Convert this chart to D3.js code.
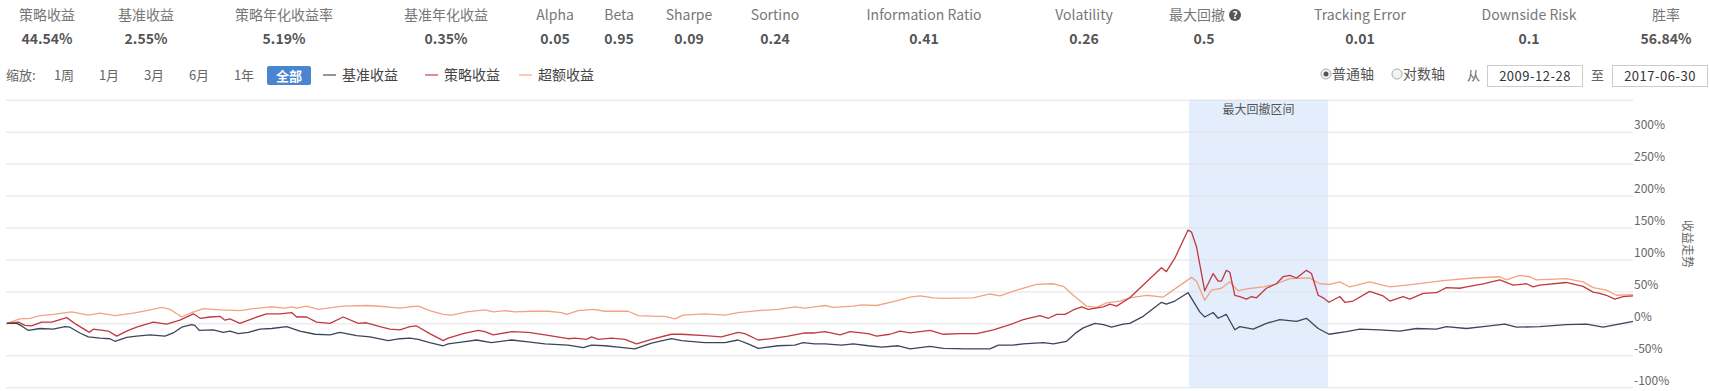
<!DOCTYPE html>
<html>
<head>
<meta charset="utf-8">
<script src="https://cdnjs.cloudflare.com/ajax/libs/d3/7.8.5/d3.min.js"></script>
<style>
body { margin: 0; background: #fff; }
svg { font-family: "Microsoft YaHei", "Noto Sans CJK SC", sans-serif; }
</style>
</head>
<body>
<div id="chart"></div>
<script>
// header stats
var statLabels = ["策略收益", "基准收益", "策略年化收益率", "基准年化收益", "Alpha", "Beta", "Sharpe", "Sortino",
    "Information Ratio", "Volatility", "最大回撤", "Tracking Error", "Downside Risk", "胜率"];
var statValues = ["44.54%", "2.55%", "5.19%", "0.35%", "0.05", "0.95", "0.09", "0.24",
    "0.41", "0.26", "0.5", "0.01", "0.1", "56.84%"];
var statX = [47, 146, 284, 446, 555, 619, 689, 775, 924, 1084, 1197, 1360, 1529, 1666];
var statValueX = [47, 146, 284, 446, 555, 619, 689, 775, 924, 1084, 1204, 1360, 1529, 1666];

var zoomLabels = ["1周", "1月", "3月", "6月", "1年"];
var legendNames = ["基准收益", "策略收益", "超额收益"];
var dateFrom = "2009-12-28";
var dateTo = "2017-06-30";

var yTicks = [-100, -50, 0, 50, 100, 150, 200, 250, 300, 350];
var drawdownRange = [2015.451, 2016.093];

// [decimal year, return %]
var benchmark = [
[2009.990,0],[2010.036,0],[2010.059,-4],[2010.090,-11],[2010.144,-8],[2010.205,-9],[2010.259,-5],[2010.282,-6],[2010.328,-15],[2010.367,-21],[2010.421,-23],[2010.467,-24],[2010.490,-28],[2010.544,-22],[2010.590,-20],[2010.652,-18],[2010.721,-20],[2010.759,-15],[2010.798,-6],[2010.844,-2],[2010.859,-3],[2010.879,-11],[2010.944,-10],[2010.990,-14],[2011.021,-12],[2011.060,-16],[2011.106,-14],[2011.160,-9],[2011.214,-8],[2011.283,-5],[2011.344,-12],[2011.414,-17],[2011.483,-18],[2011.529,-14],[2011.606,-19],[2011.668,-21],[2011.752,-27],[2011.806,-24],[2011.852,-23],
[2011.891,-25],[2011.944,-30],[2012.006,-35],[2012.029,-32],[2012.098,-29],[2012.160,-26],[2012.229,-30],[2012.322,-26],[2012.399,-29],[2012.476,-32],[2012.583,-34],[2012.653,-38],[2012.691,-34],[2012.753,-35],[2012.814,-37],[2012.891,-40],[2012.968,-31],[2013.060,-24],[2013.107,-27],[2013.214,-30],[2013.307,-30],[2013.368,-26],[2013.414,-32],[2013.461,-39],[2013.553,-35],[2013.630,-34],[2013.668,-30],[2013.722,-32],
[2013.769,-32],[2013.846,-34],[2013.900,-32],[2013.969,-35],[2014.031,-37],[2014.108,-35],[2014.162,-40],[2014.254,-36],[2014.316,-39],[2014.423,-40],[2014.531,-40],[2014.570,-34],[2014.639,-34],[2014.685,-32],[2014.778,-30],[2014.824,-32],[2014.885,-28],[2014.931,-14],[2014.962,-7],[2015.016,0],[2015.055,-2],[2015.093,-6],[2015.147,-1],
[2015.177,0],[2015.239,11],[2015.323,33],[2015.346,30],[2015.385,35],[2015.446,48],[2015.500,18],[2015.523,10],[2015.562,17],[2015.585,8],[2015.623,14],[2015.662,-10],[2015.685,-5],[2015.747,-9],[2015.808,0],[2015.870,6],[2015.947,3],[2015.993,8],[2016.047,-8],[2016.097,-17],[2016.178,-13],[2016.239,-9],[2016.331,-10],[2016.424,-12],[2016.501,-8],[2016.593,-9],[2016.639,-5],[2016.732,-8],[2016.809,-5],[2016.909,-1],[2016.963,-6],[2017.070,-5],[2017.193,-2],[2017.286,-1],[2017.363,-6],[2017.424,-2],[2017.501,3]
];

var strategy = [
[2009.990,0],[2010.044,2],[2010.074,-3],[2010.105,-4],[2010.151,2],[2010.198,2],[2010.267,9],[2010.313,-2],[2010.372,-14],[2010.390,-9],[2010.459,-12],[2010.498,-20],[2010.544,-12],[2010.590,-6],[2010.667,2],[2010.729,-1],[2010.790,5],[2010.852,15],[2010.883,8],[2010.929,10],[2010.975,11],[2010.998,5],[2011.021,7],[2011.067,0],[2011.129,8],[2011.190,15],[2011.252,15],[2011.306,17],[2011.329,10],[2011.375,10],[2011.421,2],[2011.483,0],[2011.544,10],[2011.614,0],[2011.652,1],[2011.714,-5],[2011.760,-9],[2011.806,-10],[2011.852,-5],
[2011.883,-4],[2011.944,-16],[2012.006,-27],[2012.029,-23],[2012.098,-16],[2012.168,-11],[2012.198,-13],[2012.237,-18],[2012.322,-13],[2012.399,-14],[2012.476,-18],[2012.583,-24],[2012.614,-23],[2012.668,-25],[2012.691,-21],[2012.722,-25],[2012.783,-23],[2012.845,-25],[2012.899,-32],[2012.968,-25],[2013.060,-17],[2013.107,-17],[2013.214,-19],[2013.291,-21],[2013.368,-14],[2013.399,-16],[2013.461,-26],[2013.522,-24],[2013.599,-20],[2013.676,-15],[2013.722,-15],
[2013.769,-13],[2013.839,-18],[2013.885,-13],[2013.969,-16],[2014.008,-20],[2014.069,-17],[2014.116,-12],[2014.162,-15],[2014.254,-11],[2014.316,-17],[2014.393,-16],[2014.470,-16],[2014.547,-10],[2014.624,-2],[2014.685,6],[2014.762,12],[2014.801,8],[2014.839,14],[2014.878,14],[2014.916,21],[2014.955,26],[2014.985,22],[2015.055,26],[2015.085,30],[2015.116,27],
[2015.177,40],[2015.239,60],[2015.323,87],[2015.346,81],[2015.385,102],[2015.446,146],[2015.462,143],[2015.485,120],[2015.523,51],[2015.562,78],[2015.585,66],[2015.600,66],[2015.623,83],[2015.639,80],[2015.662,44],[2015.685,42],[2015.716,38],[2015.739,42],[2015.762,40],[2015.808,55],[2015.854,62],[2015.885,73],[2015.916,75],[2015.947,71],[2015.993,83],[2016.016,78],[2016.047,44],[2016.070,40],[2016.097,33],[2016.147,42],[2016.170,33],[2016.208,35],[2016.285,50],[2016.347,43],[2016.378,35],[2016.439,42],[2016.470,38],[2016.532,47],[2016.593,48],[2016.639,56],[2016.701,55],[2016.732,57],[2016.809,62],[2016.886,68],[2016.947,60],[2017.009,62],[2017.040,57],[2017.070,60],[2017.193,64],[2017.270,58],[2017.317,49],[2017.347,47],[2017.378,44],[2017.417,38],[2017.455,42],[2017.501,43]
];

var excess = [
[2009.990,0],[2010.051,7],[2010.098,8],[2010.144,12],[2010.205,14],[2010.290,18],[2010.367,13],[2010.421,16],[2010.490,12],[2010.575,16],[2010.636,20],[2010.706,25],[2010.744,22],[2010.798,10],[2010.844,17],[2010.898,23],[2010.975,21],[2011.067,20],[2011.129,23],[2011.206,26],[2011.275,24],[2011.306,26],[2011.329,24],[2011.375,27],[2011.429,22],[2011.544,27],[2011.652,28],[2011.745,26],[2011.806,24],[2011.852,26],
[2011.891,27],[2011.944,20],[2012.006,14],[2012.045,13],[2012.114,18],[2012.198,21],[2012.237,18],[2012.291,20],[2012.337,18],[2012.414,19],[2012.491,19],[2012.552,17],[2012.576,14],[2012.629,20],[2012.699,22],[2012.753,19],[2012.860,19],[2012.907,12],[2012.999,11],[2013.030,11],[2013.076,7],[2013.114,13],[2013.214,15],[2013.307,13],[2013.368,17],[2013.461,20],[2013.553,22],[2013.630,26],[2013.676,24],[2013.722,26],
[2013.769,28],[2013.808,25],[2013.900,27],[2013.939,29],[2014.008,28],[2014.085,34],[2014.162,41],[2014.208,43],[2014.270,40],[2014.316,39],[2014.454,40],[2014.531,46],[2014.577,43],[2014.654,52],[2014.747,61],[2014.824,62],[2014.870,58],[2014.916,44],[2014.978,27],[2015.024,25],[2015.070,32],[2015.132,35],
[2015.177,40],[2015.254,44],[2015.331,41],[2015.377,52],[2015.462,72],[2015.485,66],[2015.523,36],[2015.554,52],[2015.600,55],[2015.639,65],[2015.677,51],[2015.716,54],[2015.793,57],[2015.854,62],[2015.916,70],[2016.008,71],[2016.054,62],[2016.101,61],[2016.147,65],[2016.193,57],[2016.285,65],[2016.378,57],[2016.485,61],[2016.624,67],[2016.762,71],[2016.886,73],[2016.916,68],[2016.978,75],[2017.024,73],[2017.055,68],[2017.193,70],[2017.270,65],[2017.317,56],[2017.378,52],[2017.424,44],[2017.501,45]
];

var colors = { benchmark: "#3b4658", strategy: "#c0393f", excess: "#f3a283" };

var svgWidth = 1710;
var svgHeight = 391;

var svg = d3.select("#chart")
    .append("svg")
    .attr("width", svgWidth)
    .attr("height", svgHeight);

// stats row
var stats = svg.append("g");
stats.selectAll(".statLabel")
    .data(statLabels)
    .enter()
    .append("text")
    .attr("x", (d, i) => statX[i])
    .attr("y", 20)
    .attr("text-anchor", "middle")
    .style("font-size", "14px")
    .style("fill", "#777")
    .text(d => d);

stats.selectAll(".statValue")
    .data(statValues)
    .enter()
    .append("text")
    .attr("x", (d, i) => statValueX[i])
    .attr("y", 44)
    .attr("text-anchor", "middle")
    .style("font-size", "14px")
    .style("font-weight", "bold")
    .style("fill", "#555")
    .text(d => d);

// question mark icon next to 最大回撤
var qIcon = stats.append("g").attr("transform", "translate(1235, 15)");
qIcon.append("circle").attr("r", 6).attr("fill", "#555");
qIcon.append("text")
    .attr("y", 4)
    .attr("text-anchor", "middle")
    .style("font-size", "10px")
    .style("font-weight", "bold")
    .style("fill", "#fff")
    .text("?");

// zoom controls
var ctrl = svg.append("g");
ctrl.append("text")
    .attr("x", 6).attr("y", 80)
    .style("font-size", "13px").style("fill", "#666")
    .text("缩放:");

var zoomX = d3.scalePoint().domain(zoomLabels).range([64, 244]);
ctrl.selectAll(".zoomBtn")
    .data(zoomLabels)
    .enter()
    .append("text")
    .attr("x", d => zoomX(d))
    .attr("y", 80)
    .attr("text-anchor", "middle")
    .style("font-size", "13px")
    .style("fill", "#666")
    .text(d => d);

ctrl.append("rect")
    .attr("x", 267).attr("y", 66)
    .attr("width", 44).attr("height", 19)
    .attr("rx", 2)
    .attr("fill", "#4a85d0");
ctrl.append("text")
    .attr("x", 289).attr("y", 80.5)
    .attr("text-anchor", "middle")
    .style("font-size", "13px").style("font-weight", "bold").style("fill", "#fff")
    .text("全部");

// legend
var legendColors = [colors.benchmark, colors.strategy, colors.excess];
var legendX = [323, 425, 519];
var legend = ctrl.selectAll(".legend")
    .data(legendNames)
    .enter()
    .append("g")
    .attr("transform", (d, i) => `translate(${legendX[i]}, 75)`);
legend.append("line")
    .attr("x1", 0).attr("x2", 13)
    .attr("stroke", (d, i) => legendColors[i])
    .attr("stroke-width", 1.5)
    .attr("opacity", 0.75);
legend.append("text")
    .attr("x", 19).attr("y", 5)
    .style("font-size", "14px").style("fill", "#444")
    .text(d => d);

// axis type radios
var radios = [{ label: "普通轴", x: 1326, on: true }, { label: "对数轴", x: 1397, on: false }];
var radioG = ctrl.selectAll(".radio")
    .data(radios)
    .enter()
    .append("g")
    .attr("transform", d => `translate(${d.x}, 74)`);
radioG.append("circle")
    .attr("r", 5)
    .attr("fill", "#f4f4f4")
    .attr("stroke", "#aaa");
radioG.filter(d => d.on).append("circle")
    .attr("r", 2.5)
    .attr("fill", "#555");
radioG.append("text")
    .attr("x", 6).attr("y", 5)
    .style("font-size", "14px").style("fill", "#555")
    .text(d => d.label);

ctrl.append("text").attr("x", 1467).attr("y", 80)
    .style("font-size", "13px").style("fill", "#666").text("从");
ctrl.append("text").attr("x", 1591).attr("y", 80)
    .style("font-size", "13px").style("fill", "#666").text("至");

var boxes = [{ x: 1487, t: dateFrom }, { x: 1612, t: dateTo }];
var boxG = ctrl.selectAll(".box")
    .data(boxes)
    .enter()
    .append("g")
    .attr("transform", d => `translate(${d.x}, 65)`);
boxG.append("rect")
    .attr("x", 0.5).attr("y", 0.5)
    .attr("width", 95).attr("height", 21)
    .attr("fill", "#fff")
    .attr("stroke", "#ccc");
boxG.append("text")
    .attr("x", 48).attr("y", 15.5)
    .attr("text-anchor", "middle")
    .style("font-size", "13px").style("fill", "#333")
    .style("letter-spacing", "0.5px")
    .text(d => d.t);

// chart
var xScale = d3.scaleLinear()
    .domain([2009.99, 2017.501])
    .range([6.7, 1633]);

var yScale = d3.scaleLinear()
    .domain([-100, 350])
    .range([387.3, 99.7]);

var chartGroup = svg.append("g");

chartGroup.append("rect")
    .attr("x", xScale(drawdownRange[0]))
    .attr("y", yScale(350))
    .attr("width", xScale(drawdownRange[1]) - xScale(drawdownRange[0]))
    .attr("height", yScale(-100) - yScale(350))
    .attr("fill", "#e3edfc");

chartGroup.append("text")
    .attr("x", (xScale(drawdownRange[0]) + xScale(drawdownRange[1])) / 2)
    .attr("y", 114)
    .attr("text-anchor", "middle")
    .style("font-size", "12px")
    .style("fill", "#555")
    .text("最大回撤区间");

var rightAxis = d3.axisRight(yScale)
    .tickValues(yTicks)
    .tickSize(-(1633 - 6))
    .tickPadding(2)
    .tickFormat(d => d === 350 ? "" : d + "%");

var axisG = chartGroup.append("g")
    .attr("transform", "translate(1633, 0)")
    .call(rightAxis);
axisG.select(".domain").remove();
axisG.selectAll("line").attr("stroke", "#e3e3e3");
axisG.selectAll("text")
    .attr("x", 1)
    .attr("dy", "-0.25em")
    .style("font-size", "12px")
    .style("font-family", "\"Microsoft YaHei\", \"Noto Sans CJK SC\", sans-serif")
    .style("fill", "#666");

chartGroup.append("text")
    .attr("transform", "translate(1683, 244) rotate(90)")
    .attr("text-anchor", "middle")
    .style("font-size", "12px")
    .style("fill", "#666")
    .text("收益走势");

var line = d3.line()
    .x(d => xScale(d[0]))
    .y(d => yScale(d[1]));

var series = [
    { data: excess, color: colors.excess },
    { data: strategy, color: colors.strategy },
    { data: benchmark, color: colors.benchmark }
];

chartGroup.selectAll(".series")
    .data(series)
    .enter()
    .append("path")
    .attr("d", d => line(d.data))
    .attr("fill", "none")
    .attr("stroke", d => d.color)
    .attr("stroke-width", 1.3)
    .attr("stroke-linejoin", "round");
</script>
</body>
</html>
